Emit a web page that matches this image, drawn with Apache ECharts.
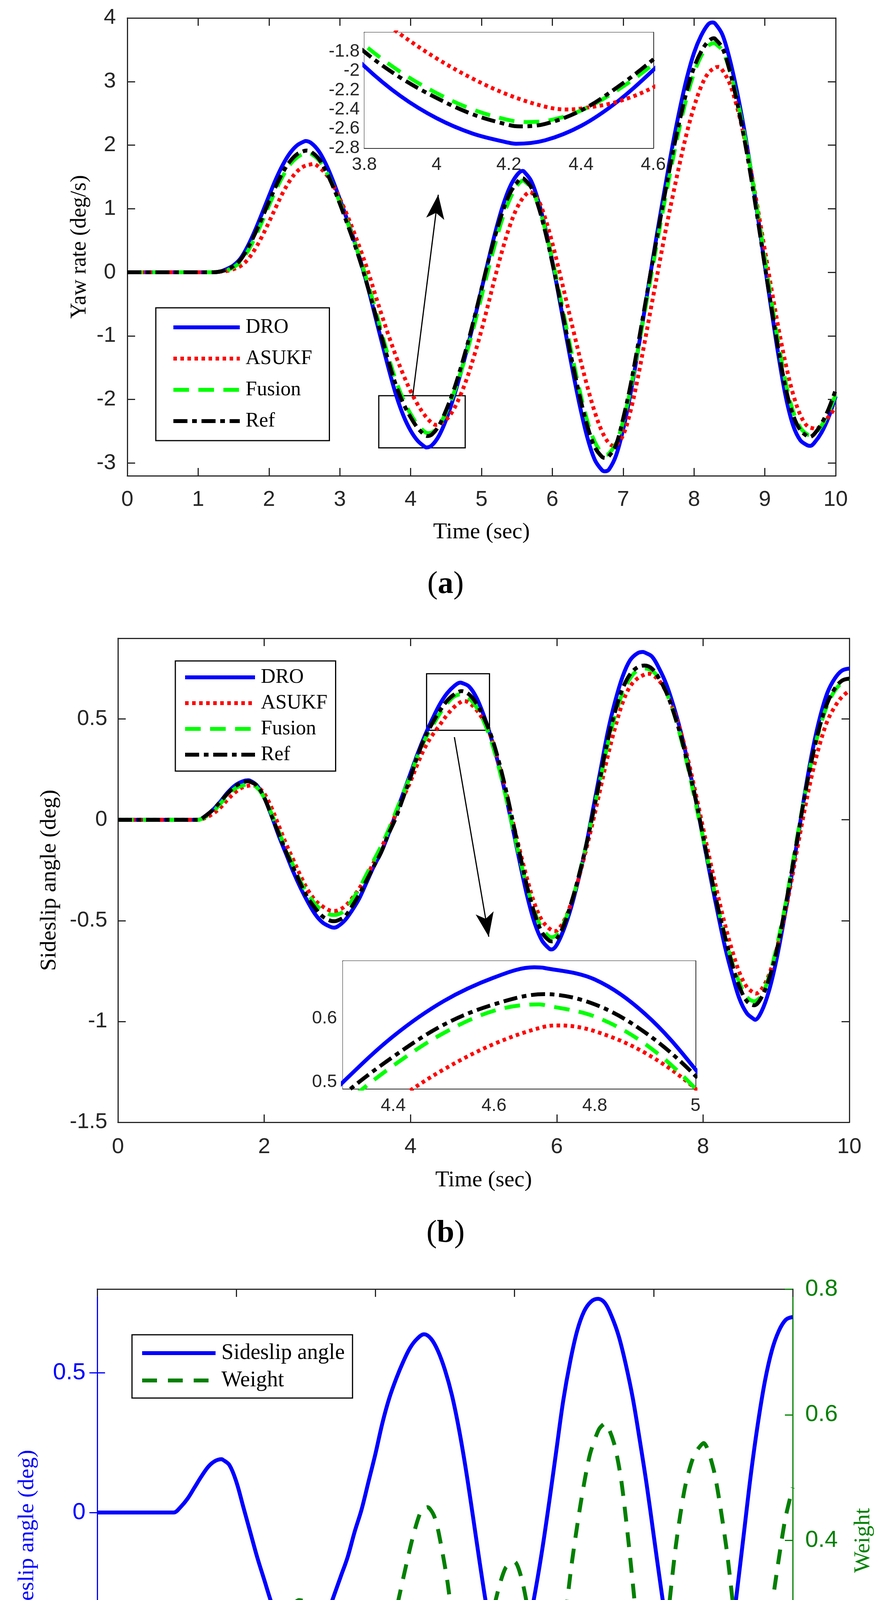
<!DOCTYPE html>
<html>
<head>
<meta charset="utf-8">
<script src="https://cdn.jsdelivr.net/npm/echarts@6.0.0/dist/echarts.min.js"></script>
<style>
html, body { margin: 0; padding: 0; background: #fff; }
#main { width: 2274px; height: 4975px; }
</style>
</head>
<body>
<div id="main"></div>
<script>
// sample times (sec)
const time = [
  0, 0.1, 0.2, 0.3, 0.4, 0.5, 0.6, 0.7, 0.8, 0.9,
  1, 1.1, 1.2, 1.3, 1.4, 1.5, 1.6, 1.7, 1.8, 1.9,
  2, 2.1, 2.2, 2.3, 2.4, 2.5, 2.6, 2.7, 2.8, 2.9,
  3, 3.1, 3.2, 3.3, 3.4, 3.5, 3.6, 3.7, 3.8, 3.9,
  4, 4.1, 4.2, 4.3, 4.4, 4.5, 4.6, 4.7, 4.8, 4.9,
  5, 5.1, 5.2, 5.3, 5.4, 5.5, 5.6, 5.7, 5.8, 5.9,
  6, 6.1, 6.2, 6.3, 6.4, 6.5, 6.6, 6.7, 6.8, 6.9,
  7, 7.1, 7.2, 7.3, 7.4, 7.5, 7.6, 7.7, 7.8, 7.9,
  8, 8.1, 8.2, 8.3, 8.4, 8.5, 8.6, 8.7, 8.8, 8.9,
  9, 9.1, 9.2, 9.3, 9.4, 9.5, 9.6, 9.7, 9.8, 9.9,
  10
];

// (a) yaw rate (deg/s)
const yawDRO = [
  0, 0, 0, 0, 0, 0, 0, 0, 0, 0,
  0, 0, 0, 0.01, 0.05, 0.11, 0.22, 0.41, 0.65, 0.92,
  1.2, 1.47, 1.7, 1.88, 2.0, 2.06, 2.03, 1.91, 1.71, 1.45,
  1.15, 0.84, 0.51, 0.15, -0.25, -0.69, -1.13, -1.56, -1.95, -2.26,
  -2.49, -2.65, -2.745, -2.72, -2.57, -2.32, -1.99, -1.61, -1.19, -0.74,
  -0.27, 0.2, 0.65, 1.04, 1.34, 1.53, 1.585, 1.44, 1.13, 0.7,
  0.17, -0.42, -1.03, -1.62, -2.16, -2.62, -2.95, -3.11, -3.1, -2.88,
  -2.47, -1.93, -1.29, -0.61, 0.08, 0.75, 1.39, 2.01, 2.57, 3.06,
  3.45, 3.72, 3.9, 3.91, 3.74, 3.37, 2.88, 2.3, 1.63, 0.89,
  0.11, -0.64, -1.36, -1.98, -2.41, -2.64, -2.72, -2.68, -2.52, -2.28,
  -1.95
];
const yawASUKF = [
  0, 0, 0, 0, 0, 0, 0, 0, 0, 0,
  0, 0, 0, 0.01, 0.02, 0.05, 0.1, 0.2, 0.36, 0.56,
  0.79, 1.03, 1.26, 1.45, 1.59, 1.67, 1.7, 1.66, 1.55, 1.38,
  1.16, 0.91, 0.63, 0.33, 0.01, -0.35, -0.7, -1.03, -1.34, -1.62,
  -1.87, -2.08, -2.25, -2.37, -2.39, -2.32, -2.17, -1.94, -1.65, -1.3,
  -0.91, -0.48, -0.04, 0.37, 0.73, 1.01, 1.19, 1.26, 1.14, 0.85,
  0.46, 0.01, -0.46, -0.93, -1.39, -1.82, -2.2, -2.5, -2.69, -2.72,
  -2.56, -2.2, -1.7, -1.12, -0.52, 0.07, 0.66, 1.2, 1.72, 2.2,
  2.6, 2.92, 3.13, 3.22, 3.18, 2.98, 2.63, 2.17, 1.62, 1.0,
  0.35, -0.3, -0.92, -1.47, -1.92, -2.24, -2.42, -2.46, -2.4, -2.27,
  -2.12
];
const yawFusion = [
  0, 0, 0, 0, 0, 0, 0, 0, 0, 0,
  0, 0, 0, 0.01, 0.03, 0.08, 0.17, 0.33, 0.54, 0.79,
  1.05, 1.3, 1.52, 1.7, 1.81, 1.87, 1.86, 1.77, 1.6, 1.37,
  1.1, 0.81, 0.5, 0.17, -0.19, -0.58, -0.99, -1.38, -1.73, -2.01,
  -2.23, -2.4, -2.51, -2.52, -2.41, -2.2, -1.93, -1.6, -1.23, -0.82,
  -0.38, 0.06, 0.48, 0.86, 1.15, 1.36, 1.44, 1.33, 1.06, 0.67,
  0.2, -0.32, -0.88, -1.42, -1.93, -2.36, -2.67, -2.84, -2.85, -2.69,
  -2.34, -1.86, -1.27, -0.65, -0.02, 0.6, 1.2, 1.77, 2.3, 2.76,
  3.13, 3.4, 3.56, 3.6, 3.49, 3.19, 2.76, 2.23, 1.62, 0.94,
  0.22, -0.5, -1.17, -1.76, -2.19, -2.44, -2.55, -2.54, -2.41, -2.2,
  -1.92
];
const yawRef = [
  0, 0, 0, 0, 0, 0, 0, 0, 0, 0,
  0, 0, 0, 0.01, 0.04, 0.1, 0.2, 0.38, 0.6, 0.85,
  1.11, 1.36, 1.58, 1.75, 1.86, 1.91, 1.89, 1.79, 1.6, 1.36,
  1.08, 0.78, 0.47, 0.13, -0.25, -0.65, -1.05, -1.45, -1.8, -2.07,
  -2.28, -2.45, -2.56, -2.55, -2.41, -2.17, -1.88, -1.53, -1.14, -0.71,
  -0.26, 0.19, 0.6, 0.96, 1.24, 1.41, 1.47, 1.34, 1.05, 0.64,
  0.15, -0.39, -0.96, -1.51, -2.01, -2.44, -2.75, -2.9, -2.89, -2.71,
  -2.3, -1.8, -1.2, -0.57, 0.07, 0.69, 1.3, 1.88, 2.4, 2.86,
  3.22, 3.47, 3.63, 3.67, 3.53, 3.19, 2.72, 2.16, 1.53, 0.83,
  0.1, -0.6, -1.27, -1.85, -2.25, -2.48, -2.58, -2.54, -2.38, -2.15,
  -1.85
];
// turning points [t, value]
const yawDROPeaks = [[2.52, 2.065], [4.22, -2.755], [5.58, 1.595], [6.74, -3.13], [8.26, 3.93], [9.64, -2.73]];
const yawASUKFPeaks = [[2.63, 1.705], [4.36, -2.4], [5.69, 1.265], [6.87, -2.73], [8.35, 3.23], [9.72, -2.465]];
const yawFusionPeaks = [[2.54, 1.875], [4.25, -2.53], [5.59, 1.445], [6.76, -2.87], [8.29, 3.605], [9.65, -2.56]];
const yawRefPeaks = [[2.53, 1.915], [4.23, -2.575], [5.57, 1.48], [6.75, -2.92], [8.28, 3.68], [9.63, -2.59]];

// (b) sideslip angle (deg)
const slipDRO = [
  0, 0, 0, 0, 0, 0, 0, 0, 0, 0,
  0, 0, 0.02, 0.05, 0.09, 0.135, 0.17, 0.19, 0.195, 0.17,
  0.11, 0.02, -0.08, -0.17, -0.26, -0.34, -0.41, -0.47, -0.51, -0.53,
  -0.53, -0.5, -0.45, -0.39, -0.31, -0.23, -0.16, -0.07, 0.03, 0.13,
  0.23, 0.33, 0.42, 0.5, 0.572, 0.627, 0.664, 0.679, 0.661, 0.607,
  0.52, 0.41, 0.28, 0.125, -0.045, -0.22, -0.385, -0.515, -0.6, -0.64,
  -0.62, -0.54, -0.43, -0.29, -0.13, 0.06, 0.25, 0.44, 0.59, 0.71,
  0.79, 0.825, 0.83, 0.81, 0.75, 0.67, 0.56, 0.43, 0.27, 0.1,
  -0.09, -0.28, -0.46, -0.63, -0.77, -0.89, -0.96, -0.99, -0.95, -0.85,
  -0.7, -0.51, -0.3, -0.08, 0.15, 0.35, 0.51, 0.63, 0.7, 0.74,
  0.75
];
const slipASUKF = [
  0, 0, 0, 0, 0, 0, 0, 0, 0, 0,
  0, 0, 0.01, 0.03, 0.06, 0.1, 0.135, 0.16, 0.17, 0.165,
  0.13, 0.06, -0.03, -0.12, -0.2, -0.28, -0.35, -0.4, -0.43, -0.45,
  -0.45, -0.43, -0.39, -0.34, -0.28, -0.21, -0.14, -0.06, 0.03, 0.11,
  0.19, 0.28, 0.36, 0.42, 0.47, 0.52, 0.56, 0.587, 0.58, 0.546,
  0.49, 0.41, 0.29, 0.15, -0.01, -0.16, -0.3, -0.42, -0.5, -0.54,
  -0.55, -0.5, -0.41, -0.29, -0.15, 0.0, 0.16, 0.32, 0.46, 0.58,
  0.66, 0.7, 0.72, 0.72, 0.69, 0.63, 0.54, 0.43, 0.29, 0.13,
  -0.04, -0.21, -0.37, -0.52, -0.65, -0.76, -0.83, -0.86, -0.84, -0.77,
  -0.65, -0.5, -0.32, -0.12, 0.07, 0.24, 0.38, 0.49, 0.56, 0.61,
  0.64
];
const slipFusion = [
  0, 0, 0, 0, 0, 0, 0, 0, 0, 0,
  0, 0, 0.015, 0.04, 0.08, 0.12, 0.155, 0.17, 0.175, 0.16,
  0.11, 0.03, -0.06, -0.15, -0.23, -0.31, -0.37, -0.42, -0.45, -0.47,
  -0.47, -0.45, -0.4, -0.34, -0.27, -0.2, -0.13, -0.05, 0.04, 0.13,
  0.22, 0.32, 0.4, 0.465, 0.526, 0.577, 0.612, 0.621, 0.603, 0.56,
  0.49, 0.395, 0.27, 0.12, -0.04, -0.2, -0.34, -0.46, -0.54, -0.58,
  -0.57, -0.51, -0.41, -0.28, -0.13, 0.04, 0.21, 0.38, 0.52, 0.63,
  0.7, 0.74, 0.75, 0.74, 0.7, 0.63, 0.53, 0.4, 0.25, 0.08,
  -0.09, -0.26, -0.43, -0.58, -0.71, -0.81, -0.88, -0.9, -0.87, -0.78,
  -0.64, -0.47, -0.27, -0.06, 0.14, 0.32, 0.46, 0.57, 0.64, 0.68,
  0.7
];
const slipRef = [
  0, 0, 0, 0, 0, 0, 0, 0, 0, 0,
  0, 0, 0.02, 0.05, 0.09, 0.13, 0.165, 0.185, 0.19, 0.17,
  0.11, 0.02, -0.07, -0.16, -0.24, -0.32, -0.39, -0.44, -0.48, -0.5,
  -0.5, -0.48, -0.43, -0.37, -0.3, -0.23, -0.16, -0.07, 0.01, 0.11,
  0.21, 0.32, 0.41, 0.48, 0.54, 0.59, 0.622, 0.638, 0.622, 0.578,
  0.51, 0.42, 0.3, 0.155, -0.01, -0.18, -0.34, -0.47, -0.56, -0.6,
  -0.59, -0.52, -0.41, -0.28, -0.13, 0.04, 0.22, 0.4, 0.54, 0.65,
  0.72, 0.755, 0.765, 0.75, 0.7, 0.63, 0.53, 0.41, 0.26, 0.1,
  -0.08, -0.26, -0.43, -0.58, -0.72, -0.83, -0.9, -0.92, -0.88, -0.79,
  -0.66, -0.48, -0.28, -0.07, 0.14, 0.32, 0.47, 0.58, 0.65, 0.69,
  0.7
];
const slipDROPeaks = [[1.78, 0.196], [2.95, -0.535], [4.68, 0.68], [5.93, -0.643], [7.18, 0.832], [8.71, -0.992]];
const slipASUKFPeaks = [[1.82, 0.171], [2.95, -0.452], [4.73, 0.589], [5.97, -0.552], [7.25, 0.724], [8.72, -0.862]];
const slipFusionPeaks = [[2.95, -0.472], [4.69, 0.622], [5.93, -0.582]];
const slipRefPeaks = [[1.79, 0.191], [2.96, -0.503], [5.94, -0.603]];

// (c) fusion weight, sampled at its own times
const weightTime = [
  0, 1.0, 1.15, 1.28, 1.47, 1.66, 1.82, 1.98, 2.1, 2.17,
  2.3, 2.42, 2.55, 2.68, 2.8, 2.9, 3.0, 3.12, 3.32, 3.51,
  3.67, 3.76, 3.83, 3.95, 4.15, 4.34, 4.53, 4.66, 4.75, 4.84,
  4.91, 5.04, 5.17, 5.29, 5.39, 5.48, 5.61, 5.74, 5.87, 6.0,
  6.12, 6.25, 6.38, 6.47, 6.57, 6.7, 6.82, 6.95, 7.08, 7.21,
  7.3, 7.43, 7.53, 7.62, 7.72, 7.81, 7.91, 7.96, 8.07, 8.2,
  8.32, 8.45, 8.58, 8.72, 8.86, 8.96, 9.06, 9.15, 9.25, 9.34,
  9.43, 9.5, 9.63, 9.76, 9.89, 10
];
const weightVals = [
  0.04, 0.04, 0.04, 0.055, 0.091, 0.122, 0.134, 0.106, 0.065, 0.04,
  0.122, 0.162, 0.213, 0.264, 0.295, 0.305, 0.302, 0.285, 0.239, 0.188,
  0.122, 0.076, 0.04, 0.122, 0.213, 0.31, 0.402, 0.448, 0.453, 0.44,
  0.412, 0.331, 0.213, 0.111, 0.053, 0.137, 0.239, 0.31, 0.356, 0.366,
  0.331, 0.249, 0.127, 0.04, 0.137, 0.249, 0.361, 0.458, 0.535, 0.576,
  0.586, 0.555, 0.499, 0.417, 0.31, 0.198, 0.096, 0.053, 0.162, 0.274,
  0.392, 0.484, 0.535, 0.555, 0.514, 0.453, 0.377, 0.29, 0.198, 0.106,
  0.04, 0.122, 0.239, 0.341, 0.433, 0.484
];

// tick values
const ticksAx = [0, 1, 2, 3, 4, 5, 6, 7, 8, 9, 10];
const ticksAy = [-3, -2, -1, 0, 1, 2, 3, 4];
const ticksInAx = [3.8, 4, 4.2, 4.4, 4.6];
const ticksInAy = [-2.8, -2.6, -2.4, -2.2, -2, -1.8];
const ticksBx = [0, 2, 4, 6, 8, 10];
const ticksBy = [-1.5, -1, -0.5, 0, 0.5];
const ticksInBx = [4.4, 4.6, 4.8, 5];
const ticksInBy = [0.5, 0.6];
const ticksCy = [-1, -0.5, 0, 0.5];
const ticksCw = [0, 0.2, 0.4, 0.6, 0.8];

// zoom boxes [t0, v0, t1, v1] and arrows [tStart, vStart, tEnd, vEnd]
const boxA = [3.55, -1.94, 4.77, -2.76];
const arrowA = [4.03, -1.94, 4.39, 1.22];
const boxB = [4.22, 0.724, 5.08, 0.444];
const arrowB = [4.6, 0.41, 5.07, -0.58];

const AX = "#262626";
const SANS = "Liberation Sans, Arial, sans-serif";
const SERIF = "Liberation Serif, Times New Roman, serif";

// grid samples plus the turning points, in time order
function track(vals, peaks) {
  return time.map((t, i) => [t, vals[i]]).concat(peaks).sort((a, b) => a[0] - b[0]);
}

function xPair(grid, min, max, ticks, o) {
  const line = { onZero: false, lineStyle: { color: AX, width: 3 } };
  const tick = { inside: true, length: o.tick, customValues: ticks, lineStyle: { color: AX, width: 3 } };
  return [
    {
      type: "value", gridIndex: grid, position: "bottom", min, max,
      splitLine: { show: false }, axisLine: line, axisTick: tick,
      axisLabel: { customValues: ticks, margin: o.margin, fontSize: o.font, fontFamily: SANS, color: AX },
      name: o.name || "", nameLocation: "middle", nameGap: o.nameGap || 0,
      nameTextStyle: { fontFamily: SERIF, fontSize: o.nameFont || 58, color: "#000" }
    },
    {
      type: "value", gridIndex: grid, position: "top", min, max,
      splitLine: { show: false }, axisLine: line, axisTick: tick, axisLabel: { show: false }
    }
  ];
}

function yPair(grid, min, max, ticks, o) {
  const line = { onZero: false, lineStyle: { color: AX, width: 3 } };
  const tick = { inside: true, length: o.tick, customValues: ticks, lineStyle: { color: AX, width: 3 } };
  return [
    {
      type: "value", gridIndex: grid, position: "left", min, max,
      splitLine: { show: false }, axisLine: line, axisTick: tick,
      axisLabel: { customValues: ticks, margin: o.margin, fontSize: o.font, fontFamily: SANS, color: AX },
      name: o.name || "", nameLocation: "middle", nameGap: o.nameGap || 0, nameRotate: 90,
      nameTextStyle: { fontFamily: SERIF, fontSize: o.nameFont || 58, color: "#000" }
    },
    {
      type: "value", gridIndex: grid, position: "right", min, max,
      splitLine: { show: false }, axisLine: line, axisTick: tick, axisLabel: { show: false }
    }
  ];
}

// line styles of the four estimators
const STY = {
  DRO: { color: "#0000ff", type: "solid" },
  ASUKF: { color: "#ff0000", type: [9, 9] },
  Fusion: { color: "#00ff00", type: [40, 24] },
  Ref: { color: "#000000", type: [36, 12, 12, 12] }
};

function curve(name, data, xi, yi) {
  return {
    type: "line", name, data, xAxisIndex: xi, yAxisIndex: yi,
    symbol: "none", showSymbol: false, smooth: 0.35, silent: true,
    lineStyle: { color: STY[name].color, width: 10, type: STY[name].type },
    itemStyle: { color: STY[name].color, opacity: 0 }
  };
}

function annot(xi, yi, box, arrow) {
  return {
    type: "line", name: "annot", data: [], xAxisIndex: xi, yAxisIndex: yi, silent: true,
    markArea: {
      silent: true,
      itemStyle: { color: "rgba(0,0,0,0)", borderColor: "#000", borderWidth: 3 },
      data: [[{ coord: [box[0], box[1]] }, { coord: [box[2], box[3]] }]]
    },
    markLine: {
      silent: true, symbol: ["none", "arrow"], symbolSize: [35, 62],
      label: { show: false },
      lineStyle: { color: "#000", width: 3, type: "solid" },
      data: [[{ coord: [arrow[0], arrow[1]] }, { coord: [arrow[2], arrow[3]] }]]
    }
  };
}

function legendBox(names, left, top, o) {
  return {
    data: names, orient: "vertical", left, top, padding: o.padding,
    itemGap: o.gap, itemWidth: o.iconW, itemHeight: 20,
    borderColor: "#000", borderWidth: 3, borderRadius: 0, backgroundColor: "#fff",
    selectedMode: false,
    lineStyle: { width: 10 },
    textStyle: { fontFamily: SERIF, fontSize: o.font, color: "#000", lineHeight: o.lh, padding: [0, 0, 0, 10] }
  };
}

function caption(letter, x, y) {
  return {
    type: "text", x, y, silent: true,
    style: {
      text: "{n|(}{b|" + letter + "}{n|)}",
      rich: {
        n: { fontFamily: SERIF, fontSize: 80, fill: "#000" },
        b: { fontFamily: SERIF, fontSize: 80, fontWeight: "bold", fill: "#000" }
      },
      align: "center", verticalAlign: "middle"
    }
  };
}

const names4 = ["DRO", "ASUKF", "Fusion", "Ref"];
const yaw = {
  DRO: track(yawDRO, yawDROPeaks), ASUKF: track(yawASUKF, yawASUKFPeaks),
  Fusion: track(yawFusion, yawFusionPeaks), Ref: track(yawRef, yawRefPeaks)
};
const slip = {
  DRO: track(slipDRO, slipDROPeaks), ASUKF: track(slipASUKF, slipASUKFPeaks),
  Fusion: track(slipFusion, slipFusionPeaks), Ref: track(slipRef, slipRefPeaks)
};

const BLUE = "#0000ff";
const DKGREEN = "#008000";

const option = {
  animation: false,
  backgroundColor: "#fff",
  grid: [
    { left: 326, top: 46, width: 1814, height: 1172 },
    { left: 933, top: 83, width: 740, height: 296, show: true, backgroundColor: "#fff", borderWidth: 0, z: 5 },
    { left: 302, top: 1634, width: 1873, height: 1239 },
    { left: 878, top: 2460, width: 903, height: 327, show: true, backgroundColor: "#fff", borderWidth: 0, z: 5 },
    { left: 249, top: 3300, width: 1781, height: 1287 }
  ],
  xAxis: [
    ...xPair(0, 0, 10, ticksAx, { tick: 20, margin: 34, font: 56, name: "Time (sec)", nameGap: 116 }),
    ...xPair(1, 3.8, 4.6, ticksInAx, { tick: 12, margin: 20, font: 46 }),
    ...xPair(2, 0, 10, ticksBx, { tick: 20, margin: 36, font: 56, name: "Time (sec)", nameGap: 120 }),
    ...xPair(3, 4.3, 5, ticksInBx, { tick: 12, margin: 21, font: 46 }),
    ...xPair(4, 0, 10, ticksBx, { tick: 20, margin: 40, font: 60, name: "Time (sec)", nameGap: 122, nameFont: 62 })
  ],
  yAxis: [
    ...yPair(0, -3.2, 4, ticksAy, { tick: 20, margin: 29, font: 56, name: "Yaw rate (deg/s)", nameGap: 94, nameFont: 56 }),
    ...yPair(1, -2.8, -1.6, ticksInAy, { tick: 12, margin: 12, font: 46 }),
    ...yPair(2, -1.5, 0.9, ticksBy, { tick: 20, margin: 27, font: 56, name: "Sideslip angle (deg)", nameGap: 146 }),
    ...yPair(3, 0.49, 0.69, ticksInBy, { tick: 12, margin: 15, font: 46 }),
    {
      type: "value", gridIndex: 4, position: "left", min: -1, max: 0.8,
      splitLine: { show: false },
      axisLine: { onZero: false, lineStyle: { color: BLUE, width: 3 } },
      axisTick: { inside: true, length: 20, customValues: ticksCy, lineStyle: { color: BLUE, width: 3 } },
      axisLabel: { customValues: ticksCy, margin: 30, fontSize: 60, fontFamily: SANS, color: BLUE },
      name: "Sideslip angle (deg)", nameLocation: "middle", nameGap: 150, nameRotate: 90,
      nameTextStyle: { fontFamily: SERIF, fontSize: 58, color: BLUE }
    },
    {
      type: "value", gridIndex: 4, position: "right", min: 0, max: 0.8,
      splitLine: { show: false },
      axisLine: { onZero: false, lineStyle: { color: DKGREEN, width: 3 } },
      axisTick: { inside: true, length: 20, customValues: ticksCw, lineStyle: { color: DKGREEN, width: 3 } },
      axisLabel: { customValues: ticksCw, margin: 32, fontSize: 60, fontFamily: SANS, color: DKGREEN },
      name: "Weight", nameLocation: "middle", nameGap: 152, nameRotate: 90,
      nameTextStyle: { fontFamily: SERIF, fontSize: 58, color: DKGREEN }
    },
    {
      // left-axis ticks repeated on the right side
      type: "value", gridIndex: 4, position: "right", min: -1, max: 0.8,
      splitLine: { show: false }, axisLine: { show: false },
      axisTick: { inside: true, length: 20, customValues: ticksCy, lineStyle: { color: BLUE, width: 3 } },
      axisLabel: { show: false }
    }
  ],
  legend: [
    legendBox(names4, 399, 788, { padding: [21, 44, 21, 40], gap: 22, iconW: 170, font: 52, lh: 58 }),
    legendBox(names4, 449, 1692, { padding: [13, 21, 13, 20], gap: 8, iconW: 179, font: 52, lh: 58 }),
    legendBox(["Sideslip angle", "Weight"], 338, 3417, { padding: [16, 20, 14, 21], gap: 8, iconW: 188, font: 56, lh: 62 })
  ],
  series: [
    ...names4.map(n => curve(n, yaw[n], 0, 0)),
    ...names4.map(n => Object.assign(curve(n, yaw[n], 2, 2), { z: 6 })),
    annot(0, 0, boxA, arrowA),
    ...names4.map(n => curve(n, slip[n], 4, 4)),
    ...names4.map(n => Object.assign(curve(n, slip[n], 6, 6), { z: 6 })),
    annot(4, 4, boxB, arrowB),
    {
      // panel (c) shows the reference sideslip angle again
      type: "line", name: "Sideslip angle", data: slip.Ref, xAxisIndex: 8, yAxisIndex: 8,
      symbol: "none", showSymbol: false, smooth: 0.35, silent: true,
      lineStyle: { color: BLUE, width: 10, type: "solid" },
      itemStyle: { color: BLUE, opacity: 0 }
    },
    {
      type: "line", name: "Weight", data: weightTime.map((t, i) => [t, weightVals[i]]),
      xAxisIndex: 8, yAxisIndex: 9,
      symbol: "none", showSymbol: false, smooth: 0.25, silent: true,
      lineStyle: { color: DKGREEN, width: 10, type: [38, 28] },
      itemStyle: { color: DKGREEN, opacity: 0 }
    }
  ],
  graphic: [
    caption("a", 1141, 1497),
    caption("b", 1141, 3158),
    caption("c", 1138, 4895)
  ]
};

const chart = echarts.init(document.getElementById("main"));
chart.setOption(option);
</script>
</body>
</html>
